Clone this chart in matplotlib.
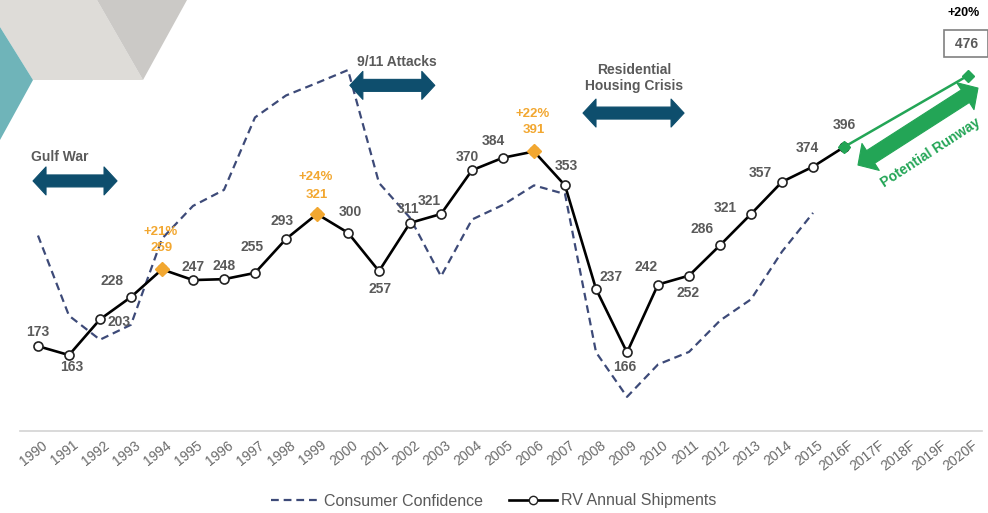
import numpy as np
import matplotlib.pyplot as plt
from matplotlib.patches import Polygon
from matplotlib.lines import Line2D
from matplotlib.transforms import ScaledTranslation

plt.rcParams['font.family'] = ['Liberation Sans', 'DejaVu Sans']

# x categories
years = ['1990', '1991', '1992', '1993', '1994', '1995', '1996', '1997', '1998',
         '1999', '2000', '2001', '2002', '2003', '2004', '2005', '2006', '2007',
         '2008', '2009', '2010', '2011', '2012', '2013', '2014', '2015',
         '2016F', '2017F', '2018F', '2019F', '2020F']

# RV annual shipments (thousands), 1990 - 2016F
rv_shipments = [173, 163, 203, 228, 259, 247, 248, 255, 293, 321, 300, 257, 311,
                321, 370, 384, 391, 353, 237, 166, 242, 252, 286, 321, 357, 374, 396]
rv_2020f = 476
growth_2020f = '+20%'

# Consumer confidence index, 1990 - 2015
consumer_conf = [91.5, 68.5, 61.6, 65.9, 90.6, 100.0, 104.6, 125.4, 131.7, 135.3,
                 139.0, 106.6, 96.6, 79.8, 96.1, 100.3, 105.9, 103.4, 58.0, 45.2,
                 54.5, 58.1, 67.1, 73.2, 86.9, 98.0]

# peak years highlighted with growth labels
peaks = {'1994': '+21%', '1999': '+24%', '2006': '+22%'}

# label offsets (pixels) for each shipment value
label_offsets = [(0, 14), (3, -12), (19, -3), (-19, 16), (0, 21), (0, 13), (0, 13),
                 (-3, 26), (-4, 18), (0, 19), (2, 21), (1, -18), (-2, 14), (-12, 13),
                 (-5, 13), (-10, 17), (0, 21), (1, 19), (15, 12), (-2, -15), (-12, 18),
                 (-1, -17), (-18, 16), (-26, 6), (-22, 9), (-6, 19), (0, 22)]

NAVY = '#3d4a78'
ARROW = '#0e4e6d'
ORANGE = '#f2a730'
GREEN = '#23a556'
GRAY = '#5a5a5a'

W, H = 988, 513
fig = plt.figure(figsize=(W / 100, H / 100), dpi=100)


def fpx(x, y):
    return (x / W, 1 - y / H)


# corner decoration
for pts, col in [([(0, 0), (97, 0), (143, 80), (33, 80), (0, 27)], '#dedcd8'),
                 ([(97, 0), (187, 0), (143, 80)], '#cbc9c6'),
                 ([(0, 27), (33, 80), (0, 140)], '#6fb4b9')]:
    fig.add_artist(Polygon([fpx(*p) for p in pts], closed=True, fc=col, ec='none',
                           transform=fig.transFigure, zorder=0))

ax = fig.add_axes([20 / W, 82 / H, 962 / W, 431 / H])
ax.patch.set_alpha(0)
ax2 = ax.twinx()
ax2.set_zorder(ax.get_zorder() - 1)

x = np.arange(len(years))
n_hist = len(rv_shipments)

ax.set_xlim(-0.58, 30.45)
ax.set_ylim(78, 560.6)
ax2.set_ylim(35.4, 159.1)

for a in (ax, ax2):
    for s in ('top', 'left', 'right'):
        a.spines[s].set_visible(False)
    a.set_yticks([])
ax2.spines['bottom'].set_visible(False)
ax.spines['bottom'].set_color('#d3d3d3')
ax.spines['bottom'].set_linewidth(1.2)

ax.set_xticks(x)
ax.set_xticklabels(years, rotation=38, ha='right', va='center',
                   rotation_mode='anchor', fontsize=10, color='#6a6a6a')
ax.tick_params(axis='x', length=0, pad=9)
off = ScaledTranslation(8 / 100, 0, fig.dpi_scale_trans)
for lbl in ax.get_xticklabels():
    lbl.set_transform(lbl.get_transform() + off)

# consumer confidence (right scale)
ax2.plot(x[:len(consumer_conf)], consumer_conf, color=NAVY, lw=1.6,
         dashes=(3.5, 2.2))

# shipments
ax.plot(x[:n_hist], rv_shipments, color='black', lw=1.9, marker='o', ms=6.5,
        mfc='white', mec='#222222', mew=1.2, zorder=3)
ax.plot([x[n_hist - 1], x[-1]], [rv_shipments[-1], rv_2020f], color=GREEN, lw=1.8,
        marker='D', ms=6.5, mfc=GREEN, mec=GREEN, zorder=4)

for yr, g in peaks.items():
    i = years.index(yr)
    ax.plot(x[i], rv_shipments[i], marker='D', ms=7.5, color=ORANGE, mec=ORANGE,
            zorder=5)
    ax.annotate(g, (x[i], rv_shipments[i]), xytext=(-1, 37), textcoords='offset pixels',
                ha='center', va='center', fontsize=9.5, fontweight='bold', color=ORANGE)

for i, v in enumerate(rv_shipments):
    dx, dy = label_offsets[i]
    peak = years[i] in peaks
    ax.annotate(str(v), (x[i], v), xytext=(dx, dy), textcoords='offset pixels',
                ha='center', va='center', fontsize=9.5 if peak else 10,
                fontweight='bold', color=ORANGE if peak else GRAY, zorder=6)

ax.annotate(' ' + str(rv_2020f) + ' ', (x[-1], rv_2020f), xytext=(-2, 32),
            textcoords='offset pixels', ha='center', va='center', fontsize=10,
            fontweight='bold', color=GRAY,
            bbox=dict(boxstyle='square,pad=0.45', fc='white', ec='#808080', lw=1.2),
            annotation_clip=False)
ax.annotate(growth_2020f, (x[-1], rv_2020f), xytext=(-4, 63),
            textcoords='offset pixels', ha='center', va='center', fontsize=9,
            fontweight='bold', color='black', annotation_clip=False)


def double_arrow(x0, x1, y0, y1, color, body=6, head=14, head_len=13):
    # block arrow with a head at both ends; sizes in pixels
    p0 = ax.transData.transform((x0, y0))
    p1 = ax.transData.transform((x1, y1))
    u = (p1 - p0) / np.hypot(*(p1 - p0))
    n = np.array([-u[1], u[0]])
    a, b = p0 + u * head_len, p1 - u * head_len
    pts = [p0, a + n * head, a + n * body, b + n * body, b + n * head, p1,
           b - n * head, b - n * body, a - n * body, a - n * head]
    pts = fig.transFigure.inverted().transform(pts)
    fig.add_artist(Polygon(pts, closed=True, fc=color, ec=color, lw=0.8,
                           joinstyle='round', transform=fig.transFigure, zorder=2))


# event arrows
double_arrow(-0.16, 2.55, 358, 358, ARROW)
ax.text(0.71, 385, 'Gulf War', ha='center', va='center', fontsize=10,
        fontweight='bold', color=GRAY)
double_arrow(10.06, 12.8, 465, 465, ARROW)
ax.text(11.58, 491, '9/11 Attacks', ha='center', va='center', fontsize=10,
        fontweight='bold', color=GRAY)
double_arrow(17.58, 20.84, 434, 434, ARROW)
ax.text(19.23, 473, 'Residential\nHousing Crisis', ha='center', va='center',
        fontsize=10, fontweight='bold', color=GRAY, linespacing=1.2)

# growth runway
double_arrow(26.45, 30.32, 375.8, 462, GREEN, body=7.5, head=16, head_len=15)
ax.text(28.8, 390, 'Potential Runway', ha='center', va='center', rotation=33,
        fontsize=10, fontweight='bold', color=GREEN)

handles = [Line2D([], [], color=NAVY, lw=1.6, dashes=(3.5, 2.2)),
           Line2D([], [], color='black', lw=1.9, marker='o', ms=6, mfc='white',
                  mec='#222222')]
leg = fig.legend(handles, ['Consumer Confidence', 'RV Annual Shipments'],
                 loc='center', bbox_to_anchor=(0.5, 1 - 501 / H), ncol=2,
                 frameon=False, fontsize=11.5, handlelength=3.0, columnspacing=1.6,
                 handletextpad=0.3)
for t in leg.get_texts():
    t.set_color(GRAY)

fig.savefig('out.png', dpi=100)
